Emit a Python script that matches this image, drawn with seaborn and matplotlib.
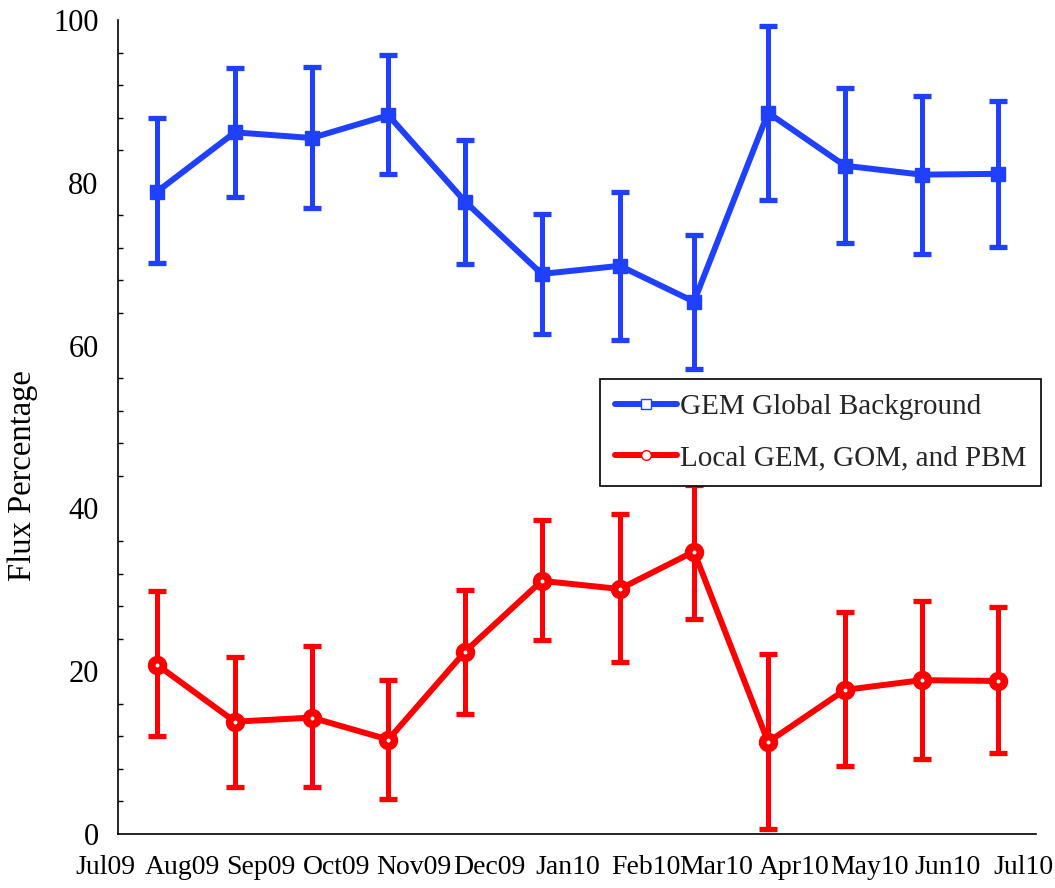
import numpy as np
import pandas as pd
import matplotlib
matplotlib.use("Agg")
import matplotlib.pyplot as plt
import matplotlib.dates as mdates
from matplotlib.lines import Line2D
from matplotlib.ticker import MultipleLocator
from matplotlib.transforms import ScaledTranslation
import seaborn as sns

# ---- data ----
months = ["2009-07", "2009-08", "2009-09", "2009-10", "2009-11", "2009-12",
          "2010-01", "2010-02", "2010-03", "2010-04", "2010-05", "2010-06"]
gem_global = [78.9, 86.2, 85.5, 88.3, 77.7, 68.8, 69.8, 65.4, 88.6, 82.1, 81.0, 81.1]
gem_global_lo = [70.2, 78.2, 76.9, 81.1, 70.0, 61.4, 60.7, 57.1, 77.9, 72.6, 71.3, 72.1]
gem_global_hi = [88.0, 94.1, 94.2, 95.7, 85.3, 76.2, 78.9, 73.6, 99.3, 91.7, 90.7, 90.0]
local = [20.8, 13.8, 14.3, 11.6, 22.4, 31.1, 30.1, 34.7, 11.3, 17.7, 18.9, 18.8]
local_lo = [12.0, 5.8, 5.8, 4.3, 14.7, 23.8, 21.1, 26.4, 0.6, 8.3, 9.2, 9.9]
local_hi = [29.9, 21.7, 23.1, 18.9, 30.0, 38.6, 39.3, 42.9, 22.1, 27.3, 28.6, 27.9]
series_names = ["GEM Global Background", "Local GEM, GOM, and PBM"]
tick_months = pd.date_range("2009-07-01", "2010-07-01", freq="MS")
y_label = "Flux Percentage"

BLUE = "#2040FF"
RED = "#FF0000"

# mid-month positions
starts = pd.to_datetime(months)
mids = starts + (starts + pd.offsets.MonthBegin(1) - starts) / 2

df = pd.DataFrame({
    "date": list(mids) * 2,
    "value": gem_global + local,
    "series": [series_names[0]] * len(months) + [series_names[1]] * len(months),
})

sns.set_theme(style="white")
plt.rcParams["font.family"] = ["Liberation Serif", "DejaVu Serif"]

fig = plt.figure(figsize=(10.55, 8.88), dpi=100)
ax = fig.add_axes([0.1118, 0.0608, 0.8702, 0.9167])

lw = 4.3
# error bars
for vals, lo, hi, col in [(gem_global, gem_global_lo, gem_global_hi, BLUE),
                          (local, local_lo, local_hi, RED)]:
    v = np.array(vals)
    yerr = np.vstack([v - np.array(lo), np.array(hi) - v])
    ax.errorbar(mids, v, yerr=yerr, fmt="none", ecolor=col, elinewidth=3.6,
                capsize=6.3, capthick=3.8, zorder=2)

n_before = len(ax.lines)
sns.lineplot(data=df, x="date", y="value", hue="series", style="series",
             palette=[BLUE, RED], markers=["s", "o"], dashes=False,
             linewidth=lw, markersize=10, ax=ax, legend=False, zorder=3)
for line in ax.lines[n_before:]:
    if matplotlib.colors.to_hex(line.get_color()).lower() == RED.lower():
        line.set_markersize(8.5)
        line.set_markerfacecolor("white")
        line.set_markeredgewidth(5.5)
        line.set_markeredgecolor(RED)
    else:
        line.set_markersize(10)
        line.set_markeredgewidth(1)
        line.set_markeredgecolor(BLUE)
        line.set_markerfacecolor(BLUE)

ax.set_xlim(tick_months[0], tick_months[-1])
ax.set_ylim(0, 100)
ax.set_xticks(tick_months)
ax.xaxis.set_major_formatter(mdates.DateFormatter("%b%y"))
ax.yaxis.set_major_locator(MultipleLocator(20))
ax.yaxis.set_minor_locator(MultipleLocator(4))

for s in ["top", "right"]:
    ax.spines[s].set_visible(False)
for s in ["left", "bottom"]:
    ax.spines[s].set_color("black")
    ax.spines[s].set_linewidth(1.2)

ax.tick_params(axis="both", which="major", direction="in", length=7, width=1,
               color="black", labelcolor="black")
ax.tick_params(axis="y", which="major", pad=14, labelsize=22)
ax.tick_params(axis="x", which="major", pad=15, labelsize=20)
ax.tick_params(axis="y", which="minor", direction="in", length=3.5, width=1,
               color="black", left=True)
ax.tick_params(axis="x", which="minor", bottom=False)

for lab in ax.get_xticklabels():
    lab.set_transform(lab.get_transform() + ScaledTranslation(-0.13, 0, fig.dpi_scale_trans))

ax.set_xlabel("")
ax.set_ylabel(y_label, fontsize=23.5, color="black")
ax.yaxis.set_label_coords(-0.087, 0.44)

handles = [
    Line2D([], [], color=BLUE, lw=lw, marker="s", markersize=7,
           markerfacecolor="white", markeredgecolor=BLUE, markeredgewidth=1),
    Line2D([], [], color=RED, lw=lw, marker="o", markersize=7,
           markerfacecolor="white", markeredgecolor=RED, markeredgewidth=1),
]
leg = ax.legend(handles, series_names, loc="upper left",
                bbox_to_anchor=(0.525, 0.559), borderaxespad=0,
                fontsize=21, frameon=True, fancybox=False, framealpha=1,
                edgecolor="black", handlelength=2.15, handletextpad=0.1,
                labelspacing=0.85, borderpad=0.5)
leg.get_frame().set_linewidth(1.2)

fig.savefig("out.png", dpi=100)
